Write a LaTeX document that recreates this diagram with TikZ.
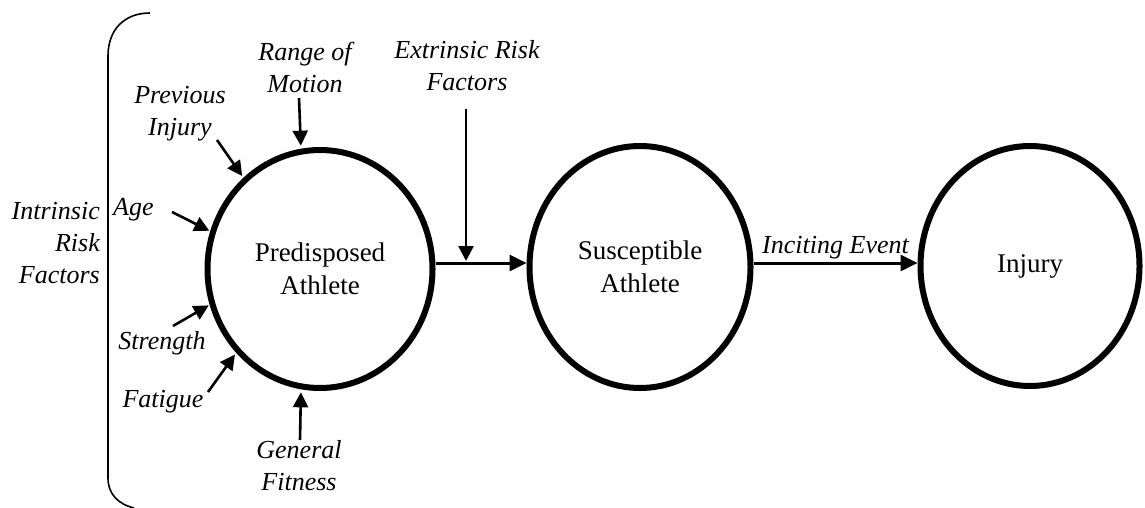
\documentclass[tikz,border=0pt]{standalone}
\usepackage{fontspec}
\setmainfont{Liberation Serif}
\usetikzlibrary{shapes.geometric,arrows.meta,calc}
\begin{document}
\begin{tikzpicture}[x=1pt,y=-1pt,
  state/.style={ellipse,draw,line width=6pt,inner sep=0pt,align=center,
    font=\fontsize{27}{33}\selectfont},
  lbl/.style={inner sep=0pt,align=center,font=\fontsize{26}{32}\selectfont\itshape},
  arr/.style={line width=2.6pt,-{Triangle[length=15pt,width=15pt]}},
  bigarr/.style={line width=3pt,-{Triangle[length=17pt,width=16pt]}},
  brace/.style={line width=1.6pt}]
\useasboundingbox (0,0) rectangle (1145,508);
% states
\node[state,minimum width=225pt,minimum height=238pt] (pa) at (320,269) {Predisposed\\Athlete};
\node[state,minimum width=221pt,minimum height=242pt] (pb) at (640,267) {Susceptible\\Athlete};
\node[state,minimum width=219pt,minimum height=240pt] (pc) at (1030,266) {Injury};
% labels
\node[lbl] (rom) at (305,67) {Range of\\Motion};
\node[lbl] (ext) at (467,66) {Extrinsic Risk\\Factors};
\node[lbl] (prev) at (180,114) {Previous\\Injury};
\node[lbl,anchor=east,align=right] (intr) at (100,243) {Intrinsic\\Risk\\Factors};
\node[lbl,anchor=west] (age) at (113,210) {Age};
\node[lbl] (str) at (162,343) {Strength};
\node[lbl] (fat) at (163,402) {Fatigue};
\node[lbl] (gen) at (299,466) {General\\Fitness};
% start points of the factor arrows
\coordinate (romS) at (299,98);
\coordinate (prevS) at (217,140);
\coordinate (ageS) at (172,212);
\coordinate (strS) at (173,326);
\coordinate (fatS) at (208,392);
\coordinate (genS) at (300,440);
\coordinate (extS) at (466,109);
\coordinate (j) at (466,263);
% factor arrows
\draw[arr,shorten >=3pt] (romS) -- (pa.99.4);
\draw[arr,shorten >=2pt] (prevS) -- (pa.130.5);
\draw[arr,shorten >=1pt] (ageS) -- (pa.161.4);
\draw[arr,shorten >=1pt] (strS) -- (pa.198);
\draw[arr,shorten >=2pt] (fatS) -- (pa.225.3);
\draw[arr,shorten >=3pt] (genS) -- (pa.261);
\draw[arr,shorten >=2pt] (extS) -- (j);
% main arrows
\draw[bigarr] (pa.east |- j) -- (pb.west |- j);
\draw[bigarr] (pb.east |- j) -- node[lbl,above=2pt,pos=0.5] (inc) {Inciting Event} (pc.west |- j);
% bracket
\draw[brace] (150,13) .. controls (124,13) and (108,30) .. (108,56) -- (108,478)
  .. controls (108,494) and (118,504) .. (134,508);
\end{tikzpicture}
\end{document}
